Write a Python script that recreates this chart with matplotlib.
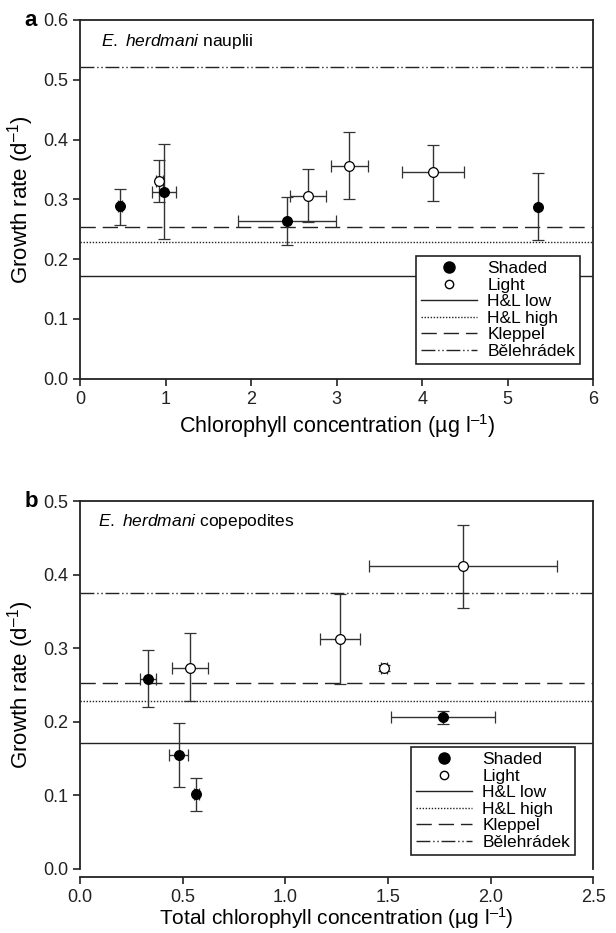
import numpy as np
import matplotlib
matplotlib.use("Agg")
import matplotlib.pyplot as plt
from matplotlib.lines import Line2D

plt.rcParams['font.family'] = ['Liberation Sans', 'DejaVu Sans']
plt.rcParams['mathtext.fontset'] = 'custom'
plt.rcParams['mathtext.rm'] = 'Liberation Sans'
plt.rcParams['mathtext.it'] = 'Liberation Sans:italic'

# panel a: nauplii
a_sh_x = [0.465, 0.985, 2.42, 5.35]
a_sh_xerr = [0.02, 0.14, 0.57, 0.0]
a_sh_y = [0.289, 0.313, 0.264, 0.288]
a_sh_ylo = [0.258, 0.234, 0.223, 0.232]
a_sh_yhi = [0.318, 0.392, 0.304, 0.344]

a_li_x = [0.925, 2.665, 3.15, 4.125]
a_li_xerr = [0.04, 0.215, 0.22, 0.36]
a_li_y = [0.331, 0.306, 0.356, 0.345]
a_li_ylo = [0.295, 0.262, 0.300, 0.298]
a_li_yhi = [0.366, 0.350, 0.413, 0.391]

a_lines = [0.172, 0.228, 0.254, 0.521]   # H&L low, H&L high, Kleppel, Belehradek

# panel b: copepodites
b_sh_x = [0.331, 0.481, 0.567, 1.768]
b_sh_xerr = [0.038, 0.046, 0.01, 0.255]
b_sh_y = [0.258, 0.155, 0.102, 0.206]
b_sh_ylo = [0.220, 0.112, 0.079, 0.197]
b_sh_yhi = [0.298, 0.198, 0.124, 0.215]

b_li_x = [0.536, 1.266, 1.479, 1.866]
b_li_xerr = [0.088, 0.099, 0.015, 0.457]
b_li_y = [0.273, 0.312, 0.273, 0.412]
b_li_ylo = [0.228, 0.252, 0.269, 0.355]
b_li_yhi = [0.320, 0.373, 0.277, 0.468]

b_lines = [0.171, 0.228, 0.253, 0.375]

line_names = ["H&L low", "H&L high", "Kleppel", "B\u011blehr\u00e1dek"]
line_styles = ['-', (0, (1, 1.2)), (0, (11, 5)), (0, (10, 2, 1, 2, 1, 2))]

fig = plt.figure(figsize=(6.16, 9.33), dpi=100)
axa = fig.add_axes([0.130, 0.594, 0.833, 0.3846])
axb = fig.add_axes([0.130, 0.0686, 0.833, 0.3944])

def draw(ax, sx, sxe, sy, slo, shi, lx, lxe, ly, llo, lhi, hl):
    for v, ls in zip(hl, line_styles):
        ax.axhline(v, color='#222222', lw=1.0, ls=ls, zorder=1)
    for x, xe, y, lo, hi, fc in [(sx, sxe, sy, slo, shi, 'black'), (lx, lxe, ly, llo, lhi, 'white')]:
        x = np.array(x); y = np.array(y)
        yerr = [y - np.array(lo), np.array(hi) - y]
        ax.errorbar(x, y, xerr=xe, yerr=yerr, fmt='o', mfc=fc, mec='black',
                    ms=7, mew=0.9, ecolor='#333333', elinewidth=1.0, capsize=4,
                    capthick=1.0, zorder=3)
    for s in ax.spines.values():
        s.set_linewidth(1.3)
        s.set_color('#222222')
    ax.tick_params(direction='out', length=5, width=1.2, labelsize=13,
                   colors='#222222', top=False, right=False)
    ax.set_ylabel('Growth rate (d$^{\u2013 1}$)', fontsize=16, labelpad=5)

def legend(ax, bbox):
    h = [Line2D([], [], ls='none', marker='o', mfc='black', mec='black', ms=8),
         Line2D([], [], ls='none', marker='o', mfc='white', mec='black', ms=6)]
    for ls in line_styles:
        h.append(Line2D([], [], color='#222222', lw=1.0, ls=ls))
    leg = ax.legend(h, ["Shaded", "Light"] + line_names, loc='lower right',
                    bbox_to_anchor=bbox, fontsize=12.5, handlelength=3.2,
                    handletextpad=0.6, labelspacing=0.08, borderpad=0.3,
                    fancybox=False, framealpha=1, edgecolor='#222222')
    leg.get_frame().set_linewidth(1.2)

draw(axa, a_sh_x, a_sh_xerr, a_sh_y, a_sh_ylo, a_sh_yhi,
     a_li_x, a_li_xerr, a_li_y, a_li_ylo, a_li_yhi, a_lines)
axa.set_xlim(0, 6)
axa.set_ylim(0, 0.6)
axa.set_xticks(range(7))
axa.set_yticks(np.arange(0, 0.61, 0.1))
axa.yaxis.set_major_formatter(matplotlib.ticker.FormatStrFormatter('%.1f'))
axa.set_xlabel('Chlorophyll concentration (\u00b5g l$^{\u2013 1}$)', fontsize=15.5, labelpad=3)
axa.text(0.04, 0.94, '$\\it{E.\\ herdmani}$ nauplii', transform=axa.transAxes,
         fontsize=12.5, va='center', ha='left')
fig.text(0.04, 0.978, 'a', fontsize=16, fontweight='bold', va='center')
legend(axa, (0.992, 0.017))

draw(axb, b_sh_x, b_sh_xerr, b_sh_y, b_sh_ylo, b_sh_yhi,
     b_li_x, b_li_xerr, b_li_y, b_li_ylo, b_li_yhi, b_lines)
axb.set_xlim(0, 2.5)
axb.set_ylim(0, 0.5)
axb.set_xticks(np.arange(0, 2.51, 0.5))
axb.set_yticks(np.arange(0, 0.51, 0.1))
axb.xaxis.set_major_formatter(matplotlib.ticker.FormatStrFormatter('%.1f'))
axb.yaxis.set_major_formatter(matplotlib.ticker.FormatStrFormatter('%.1f'))
axb.spines['bottom'].set_position(('outward', 6))
axb.set_xlabel('Total chlorophyll concentration (\u00b5g l$^{\u2013 1}$)', fontsize=15, labelpad=-1)
axb.text(0.035, 0.943, '$\\it{E.\\ herdmani}$ copepodites', transform=axb.transAxes,
         fontsize=12.5, va='center', ha='left')
fig.text(0.04, 0.463, 'b', fontsize=16, fontweight='bold', va='center')
legend(axb, (0.982, 0.014))

fig.savefig('out.png', dpi=100)
